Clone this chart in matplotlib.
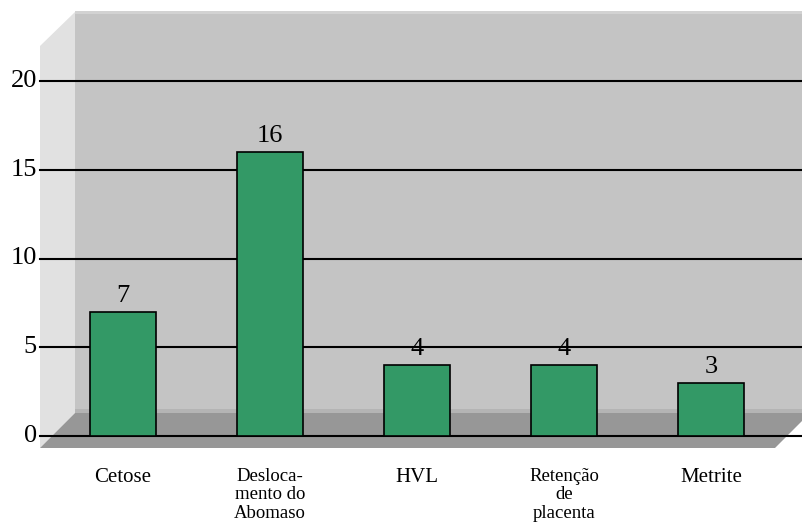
import matplotlib
matplotlib.use("Agg")
import matplotlib.pyplot as plt
from matplotlib.patches import Polygon, Rectangle

plt.rcParams["font.family"] = ["Liberation Serif", "DejaVu Serif"]

categories = ["Cetose", "Desloca-\nmento do\nAbomaso", "HVL",
              "Retenção\nde\nplacenta", "Metrite"]
counts = [7, 16, 4, 4, 3]
yticks = [0, 5, 10, 15, 20]

W, H = 803, 532
X0, DX = 123, 147          # pixel centre of first bar, bar pitch
Y0, SY = 436, 17.75        # pixel row of zero, pixels per unit

fig = plt.figure(figsize=(W / 100, H / 100), dpi=100)

# ---- 3-D box backdrop, drawn in pixel space -------------------------------
bg = fig.add_axes([0, 0, 1, 1])
bg.set_xlim(0, W); bg.set_ylim(H, 0); bg.set_axis_off()
bg.add_patch(Rectangle((75, 12), W - 75, 401, fc="#c4c4c4", ec="none"))
bg.add_patch(Rectangle((75, 11), W - 75, 3, fc="#d2d2d2", ec="none"))
bg.add_patch(Rectangle((75, 409), W - 75, 4, fc="#b4b4b4", ec="none"))
bg.add_patch(Polygon([(40, 46), (75, 12), (75, 413), (40, 448)], fc="#e1e1e1", ec="none"))
bg.add_patch(Polygon([(40, 448), (75, 413), (810, 413), (775, 448)], fc="#979797", ec="none"))

# ---- data axes on top -----------------------------------------------------
ax = fig.add_axes([0, 0, 1, 1])
ax.set_axis_off()
ax.set_xlim(-X0 / DX, (W - X0) / DX)
ax.set_ylim((Y0 - H) / SY, Y0 / SY)

for t in yticks:
    ax.axhline(t, xmin=40 / W, xmax=1, color="k", lw=1.5, zorder=1)
    ax.text(37 / W, t, str(t), transform=ax.get_yaxis_transform(),
            ha="right", va="center", fontsize=19)

x = list(range(len(categories)))
ax.bar(x, counts, width=0.45, color="#339966", edgecolor="k", lw=1.2, zorder=3)

for i, v in zip(x, counts):
    ax.annotate(str(v), (i, v), xytext=(0, 7), textcoords="offset points",
                ha="center", va="baseline", fontsize=19)

for i, cat in zip(x, categories):
    fs = 13.5 if "\n" in cat else 15
    ax.annotate(cat, (i, 0), xytext=(0, -23), textcoords="offset points",
                ha="center", va="top", fontsize=fs, linespacing=1.1,
                multialignment="center")

fig.savefig("out.png", dpi=100)
